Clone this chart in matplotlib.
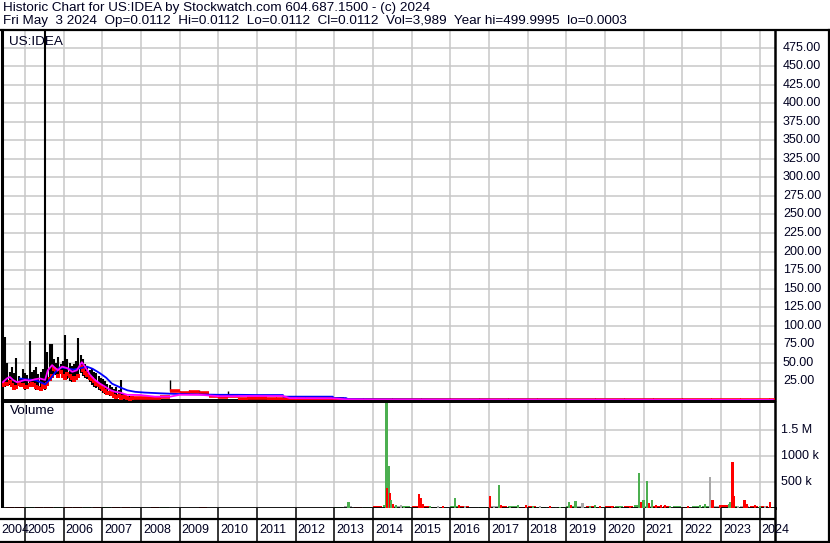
import numpy as np
import pandas as pd
import matplotlib
matplotlib.use('Agg')
import matplotlib.pyplot as plt
from matplotlib.lines import Line2D
from matplotlib.transforms import blended_transform_factory as blend

plt.rcParams['font.family'] = ['Liberation Sans', 'DejaVu Sans']

W, H = 830, 543

# ---- data ----
header1 = "Historic Chart for US:IDEA by Stockwatch.com 604.687.1500 - (c) 2024"
header2 = ("Fri May  3 2024  Op=0.0112  Hi=0.0112  Lo=0.0112  Cl=0.0112  "
           "Vol=3,989  Year hi=499.9995  lo=0.0003")
symbol = "US:IDEA"
years = list(range(2004, 2025))
price_ticks = [25, 50, 75, 100, 125, 150, 175, 200, 225, 250, 275, 300,
               325, 350, 375, 400, 425, 450, 475]
vol_ticks = [500e3, 1000e3, 1500e3]
vol_tick_labels = ['500 k', '1000 k', '1.5 M']

# early period, one bar per three weeks
bar_dates = pd.date_range('2004-06-01', periods=59, freq='3W')
bar_hi = [40, 85, 50, 38, 45, 36, 57, 32, 30, 42, 36, 34, 80, 38, 40, 44, 35, 38, 42, 500,
          65, 76, 75, 55, 50, 58, 48, 52, 88, 55, 50, 46, 48, 52, 84, 60, 55, 48, 44, 40,
          42, 38, 36, 32, 30, 28, 25, 22, 20, 18, 15, 18, 13, 27, 10, 8, 6, 6, 5]
bar_lo = [20, 18, 22, 20, 17, 13, 18, 22, 17, 20, 14, 18, 20, 18, 20, 14, 13, 15, 20, 14,
          22, 28, 32, 35, 34, 32, 35, 33, 30, 28, 25, 24, 27, 30, 33, 36, 33, 30, 28, 24,
          20, 17, 16, 13, 12, 10, 8, 7, 6, 5, 4, 4, 3, 3, 3, 2.5, 2.5, 2, 2]
bar_cl = [25, 22, 28, 24, 20, 16, 25, 27, 20, 30, 18, 24, 26, 22, 28, 18, 16, 22, 26, 18,
          35, 40, 45, 42, 40, 44, 38, 42, 45, 35, 32, 30, 35, 38, 48, 44, 40, 36, 34, 30,
          28, 25, 22, 20, 17, 15, 12, 10, 9, 8, 6, 7, 5, 6, 4, 3.5, 3, 3, 2.5]

# later period, quarterly
late_dates = pd.date_range('2007-10-01', '2024-04-01', freq='QS')
late_cl = [3.0,
           2.5, 3.0, 3.5, 12.0,
           10.0, 11.0, 9.0, 5.0,
           4.0, 6.0, 2.0, 2.5,
           2.5, 2.0, 2.0, 1.5,
           1.5, 1.2, 1.2, 1.0,
           0.8, 0.6, 0.45, 0.35,
           0.3, 0.5, 0.3, 0.25,
           0.2, 0.18, 0.15, 0.12,
           0.1, 0.09, 0.08, 0.07,
           0.08, 0.1, 0.07, 0.06,
           0.05, 0.05, 0.04, 0.04,
           0.04, 0.05, 0.04, 0.03,
           0.03, 0.02, 0.03, 0.05,
           0.06, 0.04, 0.03, 0.03,
           0.02, 0.02, 0.02, 0.03,
           0.03, 0.02, 0.015, 0.012,
           0.012, 0.0112]
late_hi = [4.0,
           3.5, 4.0, 4.5, 27.0,
           12.0, 14.0, 13.0, 6.0,
           7.0, 12.0, 3.0, 3.0,
           3.0, 2.5, 2.5, 2.0,
           2.0, 1.5, 1.5, 1.2,
           1.0, 0.8, 0.6, 0.5,
           0.4, 0.8, 0.4, 0.3,
           0.25, 0.2, 0.18, 0.15,
           0.12, 0.1, 0.1, 0.08,
           0.1, 0.15, 0.09, 0.07,
           0.06, 0.06, 0.05, 0.05,
           0.05, 0.06, 0.05, 0.04,
           0.04, 0.03, 0.04, 0.07,
           0.08, 0.05, 0.04, 0.04,
           0.03, 0.03, 0.03, 0.04,
           0.04, 0.03, 0.02, 0.015,
           0.015, 0.0112]

# moving averages (decimal years)
ma_short_t = [2004.43, 2004.53, 2004.61, 2004.69, 2004.79, 2004.87, 2005.0, 2005.13, 2005.26,
              2005.39, 2005.52, 2005.59, 2005.70, 2005.78, 2005.85, 2005.96, 2006.09, 2006.22,
              2006.34, 2006.47, 2006.55, 2006.68, 2006.81, 2006.94, 2007.07, 2007.20, 2007.33,
              2007.46, 2007.64, 2007.97, 2008.36, 2008.75, 2009.0, 2009.53, 2010.04, 2010.82,
              2011.67, 2011.85, 2012.96, 2013.28, 2014.0, 2018.0, 2024.34]
ma_short = [24, 29, 31, 27, 24, 25, 27, 26, 28,
            29, 27, 40, 47, 43, 40, 45, 43, 38,
            40, 51, 45, 34, 27, 22, 18, 13.5, 11,
            10, 7, 6.7, 4.5, 4.5, 7, 7, 5, 5.4,
            5.4, 2.5, 2.2, 1, 0.5, 0.3, 0.1]
ma_long_t = [2004.87, 2005.0, 2005.25, 2005.4, 2005.52, 2005.65, 2005.78, 2005.9, 2006.05,
             2006.25, 2006.45, 2006.6, 2006.75, 2006.94, 2007.1, 2007.25, 2007.46, 2007.65,
             2007.85, 2008.1, 2008.5, 2009.0, 2009.5, 2010.0, 2010.5, 2011.0, 2011.5,
             2011.67, 2011.68, 2012.5, 2012.96, 2012.97, 2013.3, 2013.35, 2014.0, 2016.0,
             2020.0, 2024.34]
ma_long = [29, 28, 27, 24, 21, 28, 37, 44, 43,
           41, 43, 45, 42, 36, 30, 22, 17, 13,
           11, 10, 9, 8, 7.5, 7, 7, 6.7, 6.7,
           6.7, 4.5, 4.5, 4.5, 2.6, 2.6, 1.2, 0.8, 0.5,
           0.3, 0.1]

# volume: quarterly background (thousands) and the visible spikes
base_dates = pd.date_range('2004-07-01', '2024-04-01', freq='QS')
base_k = [15, 12,
          18, 20, 14, 16, 20, 15, 18, 12, 14, 16, 10, 12, 8, 10, 12, 9,
          8, 6, 10, 7, 6, 8, 5, 7, 6, 5, 8, 6, 5, 6, 7, 8,
          10, 30, 25, 28, 45, 50, 35, 30, 35, 30, 28, 25, 30, 35, 25, 28,
          35, 40, 30, 28, 30, 25, 28, 22, 35, 40, 30, 25, 30, 38, 45, 50,
          45, 40, 35, 30, 25, 30, 38, 45, 50, 45, 38, 35,
          30, 25]
base_dir = ("rr" "grrg" "rrgr" "grrn" "rrgr" "rgrr" "nrgr" "rrgn" "grrr" "gnrg" "rgng"
            "rrgn" "grng" "nrgr" "rgng" "gnrg" "rgrg" "nrrg" "rggn" "rgnr" "rg")
vol_t = [2013.36, 2014.35, 2014.37, 2014.41, 2014.44, 2014.47, 2014.52, 2014.59, 2014.72, 2014.80,
         2015.19, 2015.23, 2015.29, 2015.47, 2015.68, 2015.81, 2016.12, 2016.22, 2016.38, 2017.02,
         2017.13, 2017.26, 2017.31, 2017.54, 2017.75, 2017.96, 2018.14, 2018.32, 2018.58, 2018.84,
         2019.07, 2019.12, 2019.24, 2019.42, 2019.61, 2019.74, 2019.87, 2020.18, 2020.39, 2020.65,
         2020.88, 2020.93, 2021.0, 2021.09, 2021.14, 2021.21, 2021.32, 2021.45, 2021.55, 2021.68,
         2022.15, 2022.46, 2022.58, 2022.71, 2022.78, 2022.97, 2023.20, 2023.25, 2023.30, 2023.34,
         2023.44, 2023.60, 2023.67, 2023.88, 2024.01, 2024.14, 2024.27]
vol_k = [115, 2025, 385, 808, 288, 154, 80, 60, 50, 40,
         270, 192, 70, 40, 40, 35, 198, 60, 30, 231,
         40, 442, 60, 40, 60, 60, 45, 30, 30, 25,
         122, 60, 141, 96, 40, 50, 30, 30, 40, 35,
         680, 120, 150, 526, 100, 150, 60, 60, 60, 40,
         40, 50, 80, 590, 154, 60, 80, 120, 891, 231,
         40, 154, 80, 60, 40, 40, 115]
vol_dir = "ggrgrgrgng rrrgnrgrnr ngrggrgnrg grgnggrrgr grggrgrrrg rggnrrggrr nrrrgnr".replace(' ', '')

vol_col = {'g': '#4caf50', 'r': '#ff0000', 'n': '#a8a8a8'}
grid_col = '#c8c8c8'
txt_col = '#000020'


def dyr(d):
    d = pd.DatetimeIndex(d)
    return np.asarray(d.year + (d.dayofyear - 1) / 365.25)


def box(top, bottom, left=2, right=775):
    return [left / W, 1 - bottom / H, (right - left) / W, (bottom - top) / H]


X0, X1 = 2004.405, 2024.395

fig = plt.figure(figsize=(W / 100, H / 100), dpi=100)
fig.patch.set_facecolor('white')

fig.text(3 / W, 1 - 2 / H, header1, fontsize=9.7, color=txt_col, va='top', ha='left')
fig.text(3 / W, 1 - 15 / H, header2, fontsize=9.7, color=txt_col, va='top', ha='left')
fig.add_artist(Line2D([0, 1], [1 - 30 / H] * 2, color='black', lw=1.6))
fig.add_artist(Line2D([828.5 / W] * 2, [0, 1 - 30 / H], color='black', lw=1.6))
fig.add_artist(Line2D([0, 1], [1 - 541.5 / H] * 2, color='black', lw=1.6))

# ---- price panel ----
ax = fig.add_axes(box(30, 400))
ax.set_xlim(X0, X1)
ax.set_ylim(0, 498.6)
for v in price_ticks:
    ax.axhline(v, color=grid_col, lw=1.1, zorder=0)
for y in years[1:]:
    ax.axvline(y, color=grid_col, lw=1.1, zorder=0)

bt = dyr(bar_dates)
ax.vlines(bt, bar_lo, bar_hi, color='black', lw=1.5, zorder=2)
cl = np.array(bar_cl)
down = np.r_[False, cl[1:] < cl[:-1]]
ax.plot(bt[down], cl[down], 's', color='red', ms=2.8, mew=0, zorder=3)
ax.plot(bt[~down], np.array(bar_lo)[~down], 's', color='red', ms=2.4, mew=0, zorder=3)

lt = dyr(late_dates)
ax.vlines(lt, late_cl, late_hi, color='black', lw=1.0, zorder=2)
ax.hlines(late_cl, lt, lt + 0.26, color='red', lw=2.6, zorder=3)

ax.plot(ma_long_t, ma_long, color='#0000ff', lw=1.3, zorder=4)
ax.plot(ma_short_t, ma_short, color='#ff00ff', lw=1.3, zorder=4)

ax.text(7 / 773, 0.985, symbol, transform=ax.transAxes, fontsize=9.7, color=txt_col,
        va='top', ha='left')

tr = blend(fig.transFigure, ax.transData)
for v in price_ticks:
    ax.text(783 / W, v, f'{v:.2f}', transform=tr, fontsize=9, color=txt_col,
            va='center', ha='left', clip_on=False)

ax.set_xticks([])
ax.set_yticks([])
ax.spines['top'].set_visible(False)
ax.spines['left'].set_linewidth(2.2)
ax.spines['right'].set_linewidth(1.8)
ax.spines['bottom'].set_linewidth(1.4)

# ---- volume panel ----
av = fig.add_axes(box(402, 508))
av.set_xlim(X0, X1)
av.set_ylim(0, 2.04e6)
for v in vol_ticks:
    av.axhline(v, color=grid_col, lw=1.1, zorder=0)
for y in years[1:]:
    av.axvline(y, color=grid_col, lw=1.1, zorder=0)

bdt = dyr(base_dates)
av.bar(bdt, np.array(base_k) * 1e3, width=0.22, align='edge',
       color=[vol_col[c] for c in base_dir], lw=0, zorder=2)
av.bar(vol_t, np.array(vol_k) * 1e3, width=0.065,
       color=[vol_col[c] for c in vol_dir], lw=0, zorder=3)

av.text(8 / 773, 0.97, 'Volume', transform=av.transAxes, fontsize=9.7, color=txt_col,
        va='top', ha='left')
trv = blend(fig.transFigure, av.transData)
for v, lab in zip(vol_ticks, vol_tick_labels):
    av.text(781 / W, v, lab, transform=trv, fontsize=9, color=txt_col,
            va='center', ha='left', clip_on=False)

av.set_xticks([])
av.set_yticks([])
av.spines['left'].set_linewidth(2.2)
av.spines['right'].set_linewidth(1.8)
av.spines['top'].set_linewidth(1.4)
av.spines['bottom'].set_linewidth(2.0)

# ---- date strip ----
ad = fig.add_axes(box(508, 541, left=0))
ad.set_xlim(X0 - 2 / 38.67, X1)
ad.set_ylim(0, 1)
ad.axhline(22 / 33, color='black', lw=1.6)
for y in years[1:]:
    ad.axvline(y, color='black', lw=1.1)
for y in years:
    x = max(y, X0 - 2.5 / 38.67)
    ad.text(x + 2 / 38.67, 11 / 33, str(y), fontsize=9, color=txt_col,
            va='center', ha='left', clip_on=(y == years[0]))
ad.set_xticks([])
ad.set_yticks([])
for s in ['left', 'top', 'bottom']:
    ad.spines[s].set_visible(False)
ad.spines['right'].set_linewidth(1.8)

fig.savefig('out.png', dpi=100)
